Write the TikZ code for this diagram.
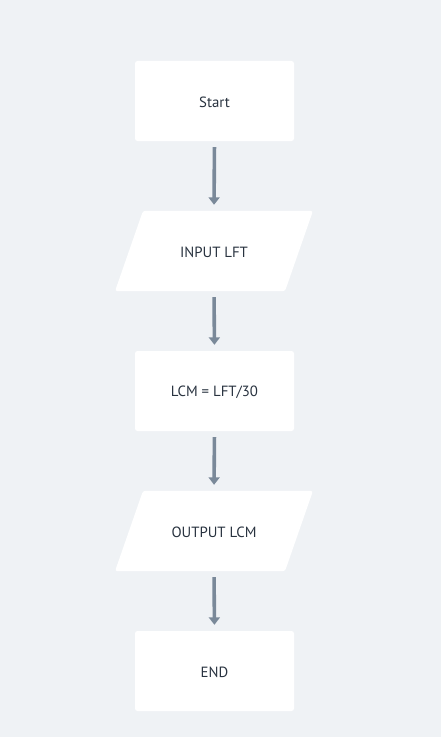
\documentclass[tikz,border=0pt]{standalone}
\usepackage{fontspec}
\setmainfont{PT Sans}
\usetikzlibrary{arrows.meta}
\definecolor{bg}{RGB}{239,242,245}
\definecolor{arrowc}{RGB}{122,137,153}
\definecolor{txt}{RGB}{40,50,63}
\tikzset{
  box/.style={fill=white, rounded corners=2.5bp, minimum width=159bp, minimum height=80bp, inner sep=0pt, text=txt, font=\fontsize{14.8bp}{17bp}\selectfont},
  iobox/.style={minimum width=142bp, minimum height=80bp, inner sep=0pt, text=txt, font=\fontsize{14.8bp}{17bp}\selectfont},
  lbl/.style={text=txt, inner sep=0pt, font=\fontsize{14.8bp}{17bp}\selectfont},
  arr/.style={draw=arrowc, line width=3.6bp, -{Triangle[width=11bp,length=7.5bp]}, shorten <=6bp, shorten >=6bp},
}
\newcommand{\ioshape}[1]{%
  \fill[white, rounded corners=2.5bp] ([xshift=-71bp]#1.north) -- ([xshift=99bp]#1.north) -- ([xshift=71bp]#1.south) -- ([xshift=-99bp]#1.south) -- cycle;}
\begin{document}
\begin{tikzpicture}[x=1bp,y=-1bp]
\fill[bg] (0,0) rectangle (441,737);
\useasboundingbox (0,0) rectangle (441,737);
\node[box] (start) at (214.5,101) {};
\node[lbl] (startt) at (214.5,102) {Start};
\node[iobox] (in) at (214,251) {};
\ioshape{in}
\node[lbl] (int) at (214,252) {INPUT LFT};
\node[box] (calc) at (214.5,391) {};
\node[lbl] (calct) at (214.5,392) {LCM = LFT/30};
\node[iobox] (out) at (214,531) {};
\ioshape{out}
\node[lbl] (outt) at (214,532) {OUTPUT LCM};
\node[box] (end) at (214.5,671) {};
\node[lbl] (endt) at (214.5,672) {END};
\draw[arr] (start.south) -- (in.north);
\draw[arr] (in.south) -- (calc.north);
\draw[arr] (calc.south) -- (out.north);
\draw[arr] (out.south) -- (end.north);
\end{tikzpicture}
\end{document}
